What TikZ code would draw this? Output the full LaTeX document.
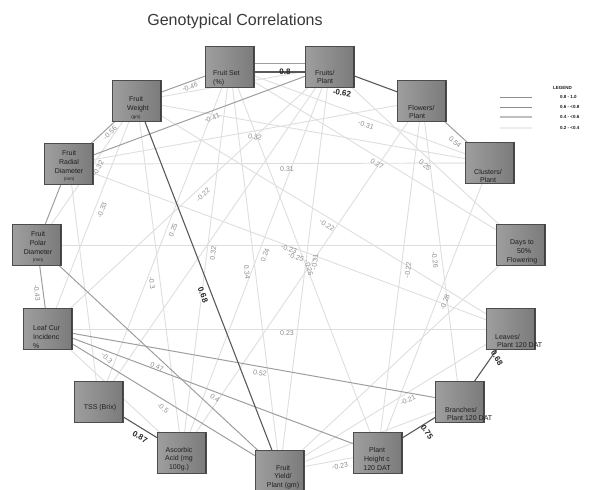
\documentclass[tikz,border=0pt]{standalone}
\usepackage{fontspec}
\setmainfont{Liberation Sans}
\pgfdeclarelayer{edges}
\pgfsetlayers{edges,main}
\tikzset{
  gbox/.style={draw=black!70, line width=0.6pt, minimum width=49pt, minimum height=41pt, inner sep=0pt,
    left color=black!38, middle color=black!7, right color=black!52,
    path picture={\draw[line width=4pt, black!75] (path picture bounding box.north east) -- (path picture bounding box.south east);}},
  btext/.style={font=\fontsize{7}{8.8}\selectfont, text=black!88, inner sep=0pt},
  weak/.style={draw=black!13, line width=0.9pt},
  mid/.style={draw=black!38, line width=1pt},
  strong/.style={draw=black!65, line width=1.1pt},
  wl/.style={font=\fontsize{7}{7}\selectfont, text=black!45, inner sep=0pt},
  bl/.style={font=\bfseries\fontsize{8}{8}\selectfont, text=black!85, inner sep=0pt},
  legl/.style={font=\bfseries\fontsize{4.5}{5}\selectfont, text=black!90, inner sep=0pt, anchor=west},
}
\newcommand{\gcsmall}{\fontsize{4.5}{5}\selectfont}
\newcommand{\gclab}[5]{\node[#1, rotate=#2] (#3) at (#4) {#5};}
\begin{document}
\begin{tikzpicture}[x=1pt, y=-1pt]
\useasboundingbox (0,0) rectangle (593,489);
\node[font=\fontsize{16}{16}\selectfont, text=black!78, inner sep=0pt] (title) at (235,21) {Genotypical Correlations};

% boxes
\node[gbox] (fs) at (230,67) {};
\node[gbox] (fp) at (330,67) {};
\node[gbox] (fw) at (137,101) {};
\node[gbox] (fl) at (422,101) {};
\node[gbox] (rd) at (69,164) {};
\node[gbox] (cl) at (490,163) {};
\node[gbox] (pd) at (37,245) {};
\node[gbox] (df) at (521,245) {};
\node[gbox] (lc) at (48,329) {};
\node[gbox] (lv) at (511,329) {};
\node[gbox] (tss) at (99,402) {};
\node[gbox] (br) at (460,402) {};
\node[gbox] (aa) at (182,453) {};
\node[gbox] (ph) at (378,453) {};
\node[gbox] (fy) at (280,471) {};

% box texts
\node[btext, align=left, anchor=west] (fst) at (213,78) {Fruit Set\\(\%)};
\node[btext, align=left, anchor=west] (fpt) at (315,77) {Fruits/\\\hspace{2pt}Plant};
\node[btext, align=center] (fwt) at (136,108) {Fruit\\\hspace{4pt}Weight\\[-1pt]{\gcsmall(gm)}\hspace{10pt}};
\node[btext, align=left, anchor=west] (flt) at (408,112) {Flowers/\\\hspace{1pt}Plant};
\node[btext, align=center] (rdt) at (69,166) {Fruit\\Radial\\Diameter\\[-2pt]{\gcsmall(mm)}};
\node[btext, align=center] (clt) at (488,176) {Clusters/\\Plant};
\node[btext, align=center] (pdt) at (38,247) {Fruit\\Polar\\Diameter\\[-2pt]{\gcsmall(mm)}};
\node[btext, align=center] (dft) at (522,252) {Days to\\\hspace{4pt}50\%\\Flowering};
\node[btext, align=left, anchor=west] (lct) at (33,337) {Leaf Cur\\Incidenc\\\%};
\node[btext, align=left, anchor=west] (lvt) at (495,341) {Leaves/\\\hspace{2pt}Plant 120 DAT};
\node[btext] (tsst) at (100,408) {TSS (Brix)};
\node[btext, align=left, anchor=west] (brt) at (445,414) {Branches/\\\hspace{2pt}Plant 120 DAT};
\node[btext, align=center] (aat) at (179,459) {Ascorbic\\Acid (mg\\100g.)};
\node[btext, align=center] (pht) at (377,459) {Plant\\Height c\\120 DAT};
\node[btext, align=center] (fyt) at (283,477) {Fruit\\Yield/\\Plant (gm)};

% legend
\node[legl] (legt) at (553,88) {LEGEND};
\coordinate (lg1a) at (500,97);  \coordinate (lg1b) at (532,97);
\coordinate (lg2a) at (500,107); \coordinate (lg2b) at (532,107);
\coordinate (lg3a) at (500,117); \coordinate (lg3b) at (532,117);
\coordinate (lg4a) at (500,128); \coordinate (lg4b) at (532,128);
\draw[draw=black!45, line width=0.7pt] (lg1a) -- (lg1b);
\draw[draw=black!45, line width=0.8pt] (lg2a) -- (lg2b);
\draw[draw=black!25, line width=1.2pt] (lg3a) -- (lg3b);
\draw[draw=black!7, line width=1.2pt] (lg4a) -- (lg4b);
\node[legl] (leg1) at (560,97) {0.8 - 1.0};
\node[legl] (leg2) at (560,107) {0.6 - <0.8};
\node[legl] (leg3) at (560,117) {0.4 - <0.6};
\node[legl] (leg4) at (560,128) {0.2 - <0.4};

% edges
\begin{pgfonlayer}{edges}
\draw[weak] (fw) -- (pd);
\draw[weak] (fw) -- (lc);
\draw[weak] (fs) -- (tss);
\draw[weak] (fs) -- (aa);
\draw[weak] (fw) -- (aa);
\draw[weak] (fs) -- (fy);
\draw[weak] (fp) -- (aa);
\draw[weak] (fp) -- (lc);
\draw[weak] (rd) -- (cl);
\draw[weak] (fw) -- (cl);
\draw[weak] (fs) -- (cl);
\draw[weak] (fp) -- (df);
\draw[weak] (fs) -- (df);
\draw[weak] (rd) -- (lv);
\draw[weak] (fw) -- (lv);
\draw[weak] (fp) -- (fy);
\draw[weak] (fs) -- (ph);
\draw[weak] (fl) -- (ph);
\draw[weak] (fl) -- (br);
\draw[weak] (cl) -- (ph);
\draw[weak] (lc) -- (lv);
\draw[weak] (fy) -- (lv);
\draw[weak] (fy) -- (ph);
\draw[weak] (lc) -- (aa);
\draw[weak] (pd) -- (df);
\draw[weak] (rd) -- (fl);
\draw[weak] (fp) -- (tss);
\draw[weak] (rd) -- (tss);
\draw[weak] (fw) -- (fp);
\draw[weak] (fy) -- (br);
\draw[weak] (fy) -- (df);
\draw[weak] (fl) -- (aa);
\draw[mid] (fw) -- (fs);
\draw[mid] (rd) -- (fw);
\draw[mid] (rd) -- (fp);
\draw[mid] (fl) -- (cl);
\draw[mid] (pd) -- (lc);
\draw[mid] (pd) -- (fy);
\draw[mid] (lc) -- (br);
\draw[mid] (lc) -- (ph);
\draw[mid] (lc) -- (fy);
\draw[mid] (rd) -- (pd);
\draw[strong] ([yshift=-5pt]fs.center) -- ([yshift=-5pt]fp.center);
\draw[mid] ([yshift=3pt]fs.center) -- ([yshift=3pt]fp.center);
\draw[strong] (fp) -- (fl);
\draw[strong] (fw) -- (fy);
\draw[strong] (tss) -- (aa);
\draw[strong] (lv) -- (br);
\draw[strong] (br) -- (ph);
\end{pgfonlayer}

% labels
\gclab{bl}{0}{l1}{285,72}{0.8}
\gclab{bl}{-10}{l2}{342,93}{-0.62}
\gclab{bl}{-69}{l3}{203,295}{0.68}
\gclab{bl}{-30}{l4}{140,437}{0.87}
\gclab{bl}{-60}{l5}{497,358}{0.68}
\gclab{bl}{-55}{l6}{427,432}{0.75}
\gclab{wl}{20}{l7}{190,87}{-0.46}
\gclab{wl}{43}{l8}{110,133}{-0.56}
\gclab{wl}{20}{l9}{212,118}{-0.41}
\gclab{wl}{60}{l10}{98,168}{-0.32}
\gclab{wl}{69}{l11}{102,210}{-0.33}
\gclab{wl}{69}{l12}{173,230}{0.25}
\gclab{wl}{83}{l13}{213,253}{0.32}
\gclab{wl}{-83}{l14}{152,283}{-0.3}
\gclab{wl}{-83}{l15}{247,272}{0.34}
\gclab{wl}{69}{l16}{265,255}{0.24}
\gclab{wl}{43}{l17}{203,195}{-0.22}
\gclab{wl}{0}{l18}{287,169}{0.31}
\gclab{wl}{-10}{l19}{255,137}{0.32}
\gclab{wl}{-20}{l20}{366,125}{-0.31}
\gclab{wl}{-43}{l21}{425,165}{0.25}
\gclab{wl}{-31}{l22}{377,164}{0.27}
\gclab{wl}{-20}{l23}{289,249}{-0.23}
\gclab{wl}{-20}{l24}{296,257}{-0.25}
\gclab{wl}{-31}{l25}{327,225}{-0.22}
\gclab{wl}{83}{l26}{315,262}{-0.31}
\gclab{wl}{-75}{l27}{309,268}{-0.26}
\gclab{wl}{83}{l28}{408,270}{-0.22}
\gclab{wl}{-83}{l29}{435,260}{-0.26}
\gclab{wl}{69}{l30}{445,302}{-0.28}
\gclab{wl}{0}{l31}{287,333}{0.23}
\gclab{wl}{25}{l32}{408,400}{-0.21}
\gclab{wl}{8}{l33}{340,466}{-0.23}
\gclab{wl}{-43}{l34}{107,358}{-0.3}
\gclab{wl}{-20}{l35}{157,367}{0.47}
\gclab{wl}{-10}{l36}{260,373}{0.52}
\gclab{wl}{-35}{l37}{163,408}{-0.5}
\gclab{wl}{-35}{l38}{215,398}{0.4}
\gclab{wl}{-83}{l39}{37,293}{-0.43}
\gclab{wl}{-42}{l40}{455,142}{0.54}
\end{tikzpicture}
\end{document}
